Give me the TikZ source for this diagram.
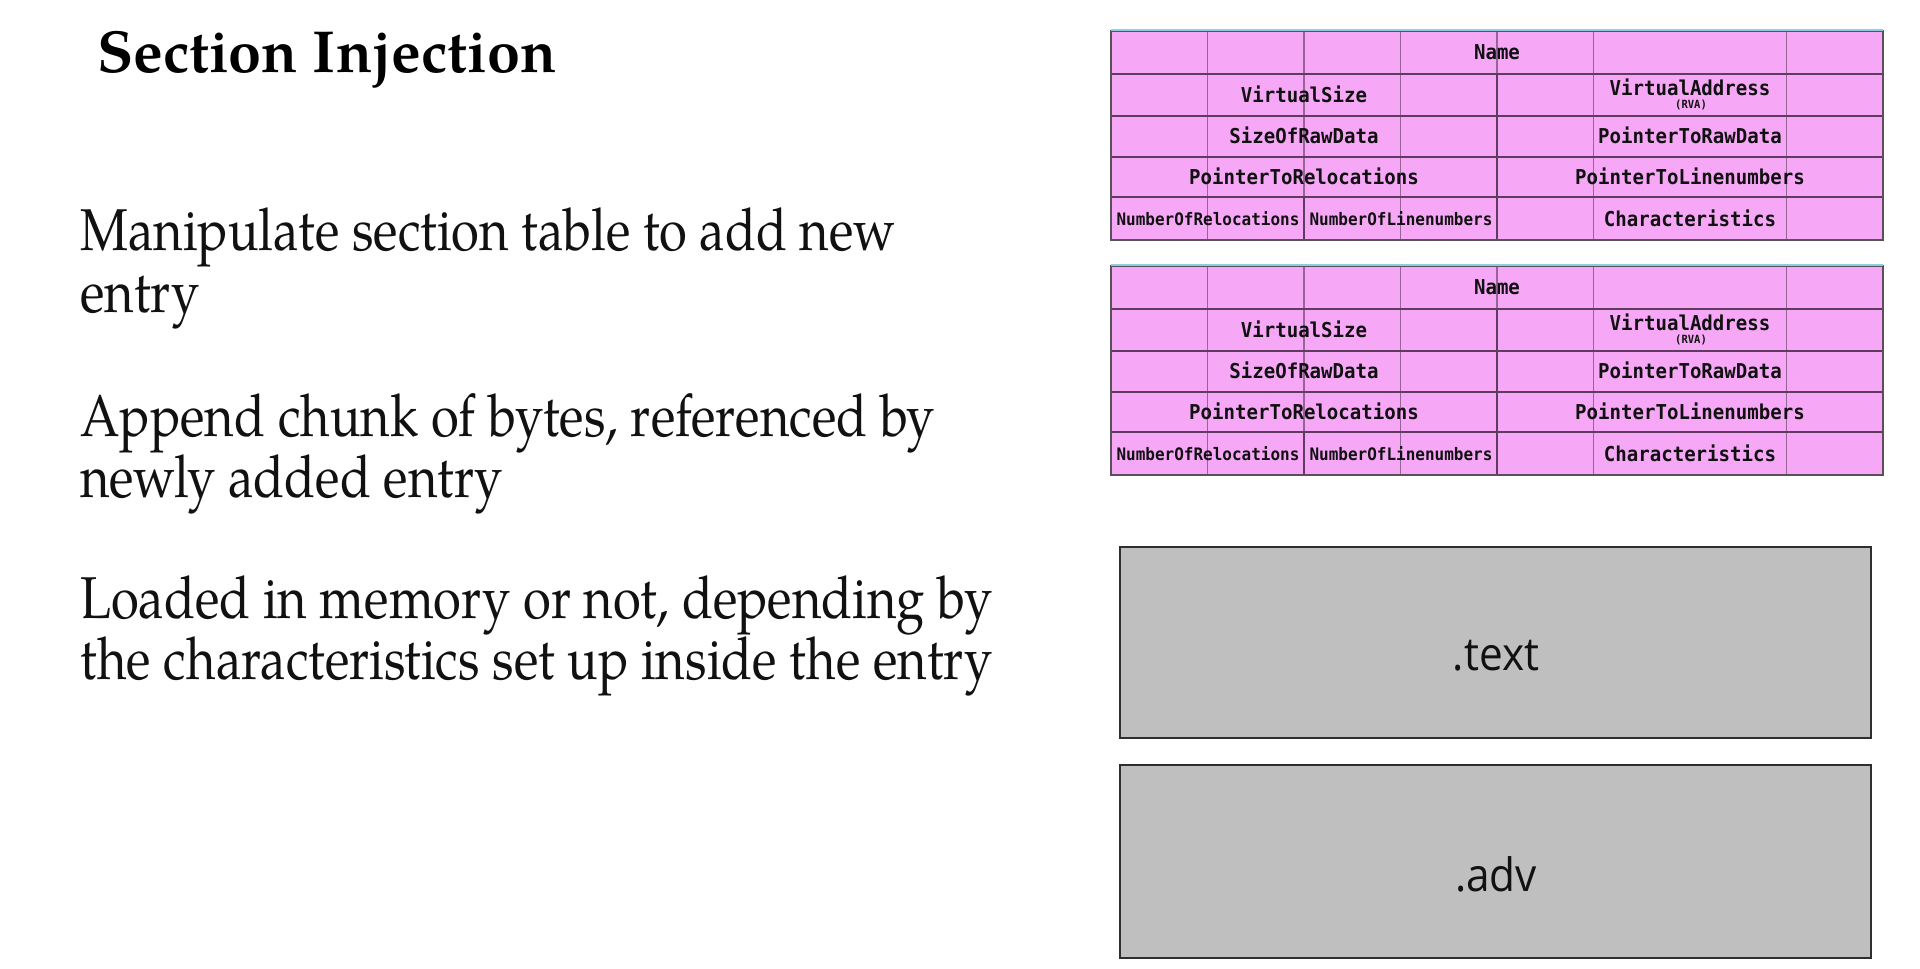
\documentclass[tikz,border=0pt]{standalone}
\usepackage{fontspec}
\newfontfamily\titlefont{TeX Gyre Pagella}
\newfontfamily\bodyfont[FakeStretch=0.86]{TeX Gyre Pagella}
\newfontfamily\cellfont[FakeStretch=0.93]{DejaVu Sans Mono}
\newfontfamily\boxfont[FakeStretch=0.92]{Open Sans}

\definecolor{cellpink}{RGB}{246,168,246}
\definecolor{gridpurple}{RGB}{150,100,150}
\definecolor{rowpurple}{RGB}{95,60,95}
\definecolor{framegray}{RGB}{90,80,90}
\definecolor{topblue}{RGB}{140,205,225}
\definecolor{secgray}{RGB}{191,191,191}
\definecolor{inkblack}{RGB}{17,17,17}

\tikzset{
  gridline/.style={draw=gridpurple, line width=1.2pt},
  divline/.style={draw=rowpurple, line width=1.8pt},
  rowline/.style={draw=rowpurple, line width=2.4pt},
  frameline/.style={draw=framegray, line width=2pt},
  topline/.style={draw=topblue, line width=2pt},
  cellbig/.style={inner sep=0pt, text=inkblack, font=\cellfont\bfseries\fontsize{20.5}{23}\selectfont},
  cellsmall/.style={inner sep=0pt, text=inkblack, font=\cellfont\bfseries\fontsize{17.2}{19}\selectfont},
  celltiny/.style={inner sep=0pt, text=inkblack, font=\cellfont\bfseries\fontsize{11.3}{13}\selectfont},
  bodyline/.style={anchor=base west, inner sep=0pt, text=inkblack, font=\bodyfont\fontsize{59}{64}\selectfont},
  secbox/.style={draw=black!82, line width=2.5pt, fill=secgray, minimum width=751pt, inner sep=0pt},
  seclabel/.style={inner sep=0pt, text=inkblack, font=\boxfont\fontsize{46}{52}\selectfont},
}

% One section header entry (40 bytes laid out as a table); #1 prefixes node names
\newcommand\sectionheader[1]{%
  \fill[cellpink] (1111,0) rectangle (1883,209);
  \foreach \x in {1207.5,1304,1400.5,1593.5,1786.5} \draw[gridline] (\x,0) -- (\x,209);
  \draw[gridline] (1497,0) -- (1497,43);
  \draw[divline] (1497,43) -- (1497,209);
  \draw[divline] (1304,166) -- (1304,209);
  \foreach \y in {43,85,126,166} \draw[rowline] (1111,\y) -- (1883,\y);
  \draw[frameline] (1111,0) rectangle (1883,209);
  \draw[topline] (1111,-1.5) -- (1883,-1.5);
  \node[cellbig] (#1name) at (1497,21.5) {Name};
  \node[cellbig] (#1vsize) at (1304,63) {VirtualSize};
  \node[cellbig] (#1vaddr) at (1690,56) {VirtualAddress};
  \node[celltiny] (#1rva) at (1691,74) {(RVA)};
  \node[cellbig] (#1rawsize) at (1304,104.5) {SizeOfRawData};
  \node[cellbig] (#1rawptr) at (1690,104.5) {PointerToRawData};
  \node[cellbig] (#1relptr) at (1304,145) {PointerToRelocations};
  \node[cellbig] (#1lineptr) at (1690,145) {PointerToLinenumbers};
  \node[cellsmall] (#1nrel) at (1208,187.5) {NumberOfRelocations};
  \node[cellsmall] (#1nline) at (1401,187.5) {NumberOfLinenumbers};
  \node[cellbig] (#1chars) at (1690,187.5) {Characteristics};
}

\begin{document}
\begin{tikzpicture}[x=1pt, y=-1pt]
  \fill[white] (0,0) rectangle (1920,969);
  \useasboundingbox (0,0) rectangle (1920,969);

  % title
  \node[anchor=base west, inner sep=0pt, text=black, font=\titlefont\bfseries\fontsize{59.3}{64}\selectfont] (title) at (97,72) {Section Injection};

  % bullet text
  \node[bodyline] (p1a) at (80,250) {Manipulate section table to add new};
  \node[bodyline] (p1b) at (80,312) {entry};
  \node[bodyline] (p2a) at (80,436) {Append chunk of bytes, referenced by};
  \node[bodyline] (p2b) at (80,497) {newly added entry};
  \node[bodyline] (p3a) at (80,618) {Loaded in memory or not, depending by};
  \node[bodyline] (p3b) at (80,679) {the characteristics set up inside the entry};

  % existing and newly added section headers
  \begin{scope}[yshift=-31pt]
    \sectionheader{a}
  \end{scope}
  \begin{scope}[yshift=-266pt]
    \sectionheader{b}
  \end{scope}

  % section data
  \node[secbox, minimum height=191pt] (textsec) at (1495.5,642.5) {};
  \node[seclabel] (textlbl) at (1496,656) {.text};
  \node[secbox, minimum height=193pt] (advsec) at (1495.5,861.5) {};
  \node[seclabel] (advlbl) at (1496,874) {.adv};
\end{tikzpicture}
\end{document}
